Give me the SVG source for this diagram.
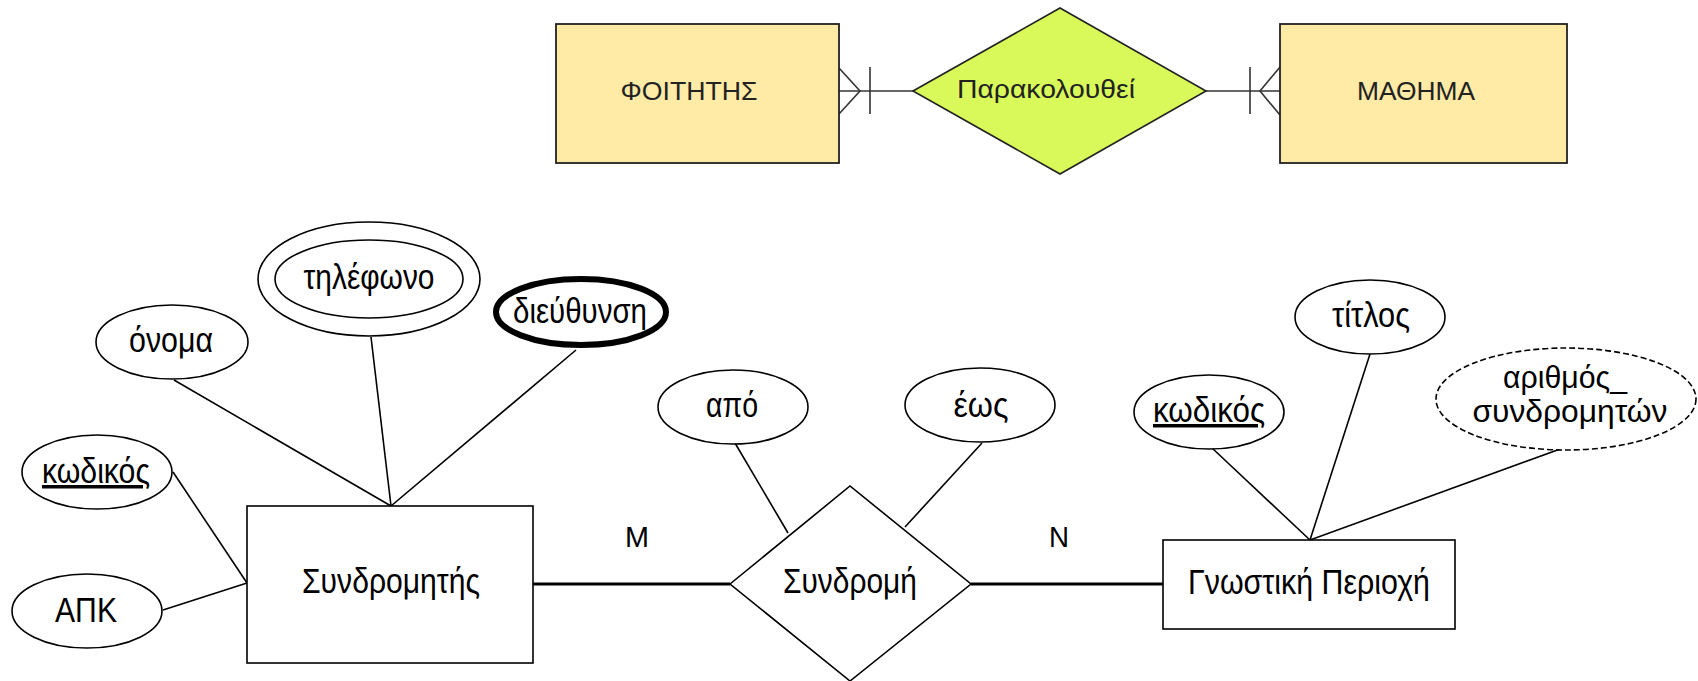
<svg xmlns="http://www.w3.org/2000/svg" width="1698" height="681" viewBox="0 0 1698 681">
<style>
.bg{fill:#ffffff}
.ent{fill:#ffffff;stroke:#000;stroke-width:1.6}
.ent2{fill:#FFEAA6;stroke:#222;stroke-width:1.8}
.rel{fill:#ffffff;stroke:#000;stroke-width:1.6}
.rel2{fill:#D9F95B;stroke:#222;stroke-width:1.6}
.att{fill:#ffffff;stroke:#000;stroke-width:1.6}
.thick{fill:#ffffff;stroke:#000;stroke-width:6}
.dash{fill:#ffffff;stroke:#000;stroke-width:1.6;stroke-dasharray:6 3}
.ln{stroke:#000;stroke-width:1.6;fill:none}
.lnb{stroke:#000;stroke-width:3;fill:none}
.lnt{stroke:#333;stroke-width:1.6;fill:none}
.t{font-family:"Liberation Sans",Arial,sans-serif;font-size:35px;fill:#000;text-anchor:middle}
.ts{font-size:31px}
.tt{font-family:"Liberation Sans",Arial,sans-serif;font-size:26px;fill:#222;text-anchor:middle}
.u{text-decoration:underline}
</style>
<rect class="bg" x="0" y="0" width="1698" height="681"/>

<g id="connectors">
  <line class="lnt" x1="839" y1="91" x2="913" y2="91"/>
  <polyline class="lnt" points="839,68 860,91 839,114"/>
  <line class="lnt" x1="870" y1="67" x2="870" y2="114"/>
  <line class="lnt" x1="1206" y1="91" x2="1280" y2="91"/>
  <polyline class="lnt" points="1280,67 1260,91 1280,115"/>
  <line class="lnt" x1="1250" y1="67" x2="1250" y2="114"/>

  <line class="ln" x1="174" y1="380" x2="391" y2="506"/>
  <line class="ln" x1="371" y1="337" x2="391" y2="506"/>
  <line class="ln" x1="576" y1="350" x2="391" y2="506"/>
  <line class="ln" x1="173" y1="472" x2="247" y2="583"/>
  <line class="ln" x1="163" y1="610" x2="247" y2="583"/>
  <line class="ln" x1="735" y1="443" x2="788" y2="533"/>
  <line class="ln" x1="982" y1="443" x2="905" y2="527"/>
  <line class="ln" x1="1212" y1="448" x2="1310" y2="540"/>
  <line class="ln" x1="1370" y1="354" x2="1310" y2="540"/>
  <line class="ln" x1="1563" y1="448" x2="1310" y2="540"/>
  <line class="lnb" x1="533" y1="584" x2="730" y2="584"/>
  <line class="lnb" x1="971" y1="584" x2="1163" y2="584"/>
  <text class="t" x="637" y="547" style="font-size:30px" textLength="24" lengthAdjust="spacingAndGlyphs">M</text>
  <text class="t" x="1059" y="547" style="font-size:30px" textLength="20" lengthAdjust="spacingAndGlyphs">N</text>
</g>

<g id="foititis">
  <rect class="ent2" x="556" y="24" width="283" height="139"/>
  <text class="tt" x="689" y="100" textLength="137" lengthAdjust="spacingAndGlyphs">ΦΟΙΤΗΤΗΣ</text>
</g>
<g id="parakolouthei">
  <polygon class="rel2" points="913,91 1060,8 1206,91 1060,174"/>
  <text class="tt" x="1046" y="98" textLength="178" lengthAdjust="spacingAndGlyphs">Παρακολουθεί</text>
</g>
<g id="mathima">
  <rect class="ent2" x="1280" y="24" width="287" height="139"/>
  <text class="tt" x="1416" y="100" textLength="118" lengthAdjust="spacingAndGlyphs">ΜΑΘΗΜΑ</text>
</g>

<g id="syndromitis">
  <rect class="ent" x="247" y="506" width="286" height="157"/>
  <text class="t" x="391" y="593" textLength="178" lengthAdjust="spacingAndGlyphs">Συνδρομητής</text>
</g>
<g id="syndromi">
  <polygon class="rel" points="730,584 850,486 971,584 850,681"/>
  <text class="t" x="850" y="593" textLength="134" lengthAdjust="spacingAndGlyphs">Συνδρομή</text>
</g>
<g id="gnostiki-periochi">
  <rect class="ent" x="1163" y="540" width="292" height="89"/>
  <text class="t" x="1309" y="594" textLength="242" lengthAdjust="spacingAndGlyphs">Γνωστική Περιοχή</text>
</g>

<g id="attr-onoma">
  <ellipse class="att" cx="172" cy="342" rx="76" ry="37"/>
  <text class="t" x="171" y="352" textLength="84" lengthAdjust="spacingAndGlyphs">όνομα</text>
</g>
<g id="attr-tilefono">
  <ellipse class="att" cx="369" cy="279" rx="111" ry="57"/>
  <ellipse class="att" cx="369" cy="279" rx="94" ry="39"/>
  <text class="t" x="369" y="289" textLength="131" lengthAdjust="spacingAndGlyphs">τηλέφωνο</text>
</g>
<g id="attr-dieuthynsi">
  <ellipse class="thick" cx="581" cy="312" rx="85" ry="33"/>
  <text class="t" x="580" y="323" textLength="134" lengthAdjust="spacingAndGlyphs">διεύθυνση</text>
</g>
<g id="attr-kodikos-syndromiti">
  <ellipse class="att" cx="97" cy="472" rx="75" ry="37"/>
  <text class="t u" x="96" y="483" textLength="108" lengthAdjust="spacingAndGlyphs">κωδικός</text>
</g>
<g id="attr-apk">
  <ellipse class="att" cx="87" cy="611" rx="75" ry="37"/>
  <text class="t" x="86" y="622" textLength="62" lengthAdjust="spacingAndGlyphs">ΑΠΚ</text>
</g>
<g id="attr-apo">
  <ellipse class="att" cx="733" cy="407" rx="75" ry="37"/>
  <text class="t" x="732" y="417" textLength="52" lengthAdjust="spacingAndGlyphs">από</text>
</g>
<g id="attr-eos">
  <ellipse class="att" cx="980" cy="405" rx="75" ry="37"/>
  <text class="t" x="981" y="417" textLength="55" lengthAdjust="spacingAndGlyphs">έως</text>
</g>
<g id="attr-kodikos-periochis">
  <ellipse class="att" cx="1209" cy="412" rx="75" ry="37"/>
  <text class="t u" x="1209" y="422" textLength="112" lengthAdjust="spacingAndGlyphs">κωδικός</text>
</g>
<g id="attr-titlos">
  <ellipse class="att" cx="1370" cy="317" rx="75" ry="37"/>
  <text class="t" x="1371" y="327" textLength="78" lengthAdjust="spacingAndGlyphs">τίτλος</text>
</g>
<g id="attr-arithmos">
  <ellipse class="dash" cx="1566" cy="399" rx="130" ry="51"/>
  <text class="t ts" x="1565" y="388" textLength="124" lengthAdjust="spacingAndGlyphs">αριθμός_</text>
  <text class="t ts" x="1570" y="422" textLength="195" lengthAdjust="spacingAndGlyphs">συνδρομητών</text>
</g>
</svg>
